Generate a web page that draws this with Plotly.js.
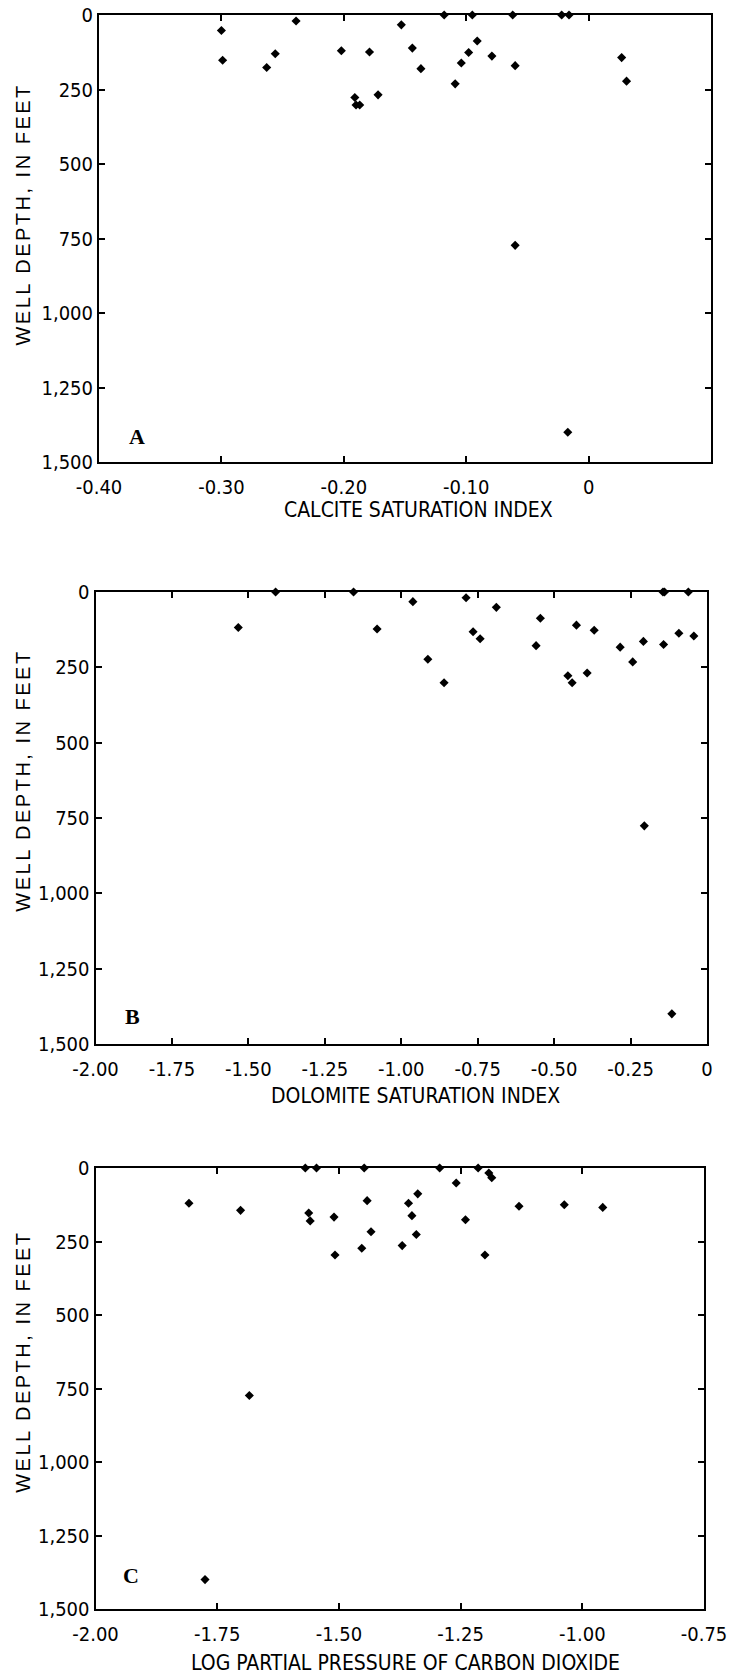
<!DOCTYPE html>
<html><head><meta charset="utf-8">
<script src="https://cdn.plot.ly/plotly-3.0.1.min.js"></script>
<style>body{margin:0;background:#fff}</style>
</head><body><div id="chart" style="width:729px;height:1679px"></div>
<script>
// Panel A: calcite saturation index vs well depth
const calciteSI = [-0.300,-0.299,-0.263,-0.256,-0.239,-0.202,-0.191,-0.190,-0.187,-0.179,-0.172,-0.153,-0.144,-0.137,-0.118,-0.109,-0.104,-0.098,-0.095,-0.091,-0.079,-0.062,-0.060,-0.022,-0.016,0.027,0.031,-0.060,-0.017];
const calciteDepth = [52,152,176,130,20,120,277,302,302,124,268,33,111,180,0,231,161,126,0,87,138,0,170,0,0,143,222,773,1400];
// Panel B: dolomite saturation index vs well depth
const dolomiteSI = [-1.533,-1.411,-1.156,-1.079,-0.962,-0.913,-0.860,-0.788,-0.765,-0.742,-0.689,-0.559,-0.545,-0.455,-0.441,-0.427,-0.392,-0.369,-0.284,-0.243,-0.208,-0.144,-0.139,-0.142,-0.092,-0.061,-0.043,-0.205,-0.115];
const dolomiteDepth = [118,0,0,123,32,223,301,19,132,155,51,178,87,278,301,110,269,127,183,232,164,0,0,174,137,0,146,776,1400];
// Panel C: log partial pressure of CO2 vs well depth
const logPCO2 = [-1.808,-1.702,-1.569,-1.546,-1.562,-1.559,-1.510,-1.508,-1.453,-1.448,-1.442,-1.434,-1.370,-1.357,-1.350,-1.341,-1.338,-1.293,-1.259,-1.240,-1.214,-1.200,-1.192,-1.186,-1.130,-1.037,-0.958,-1.684,-1.775];
const pco2Depth = [120,144,0,0,153,180,167,296,273,0,111,217,264,120,162,226,88,0,51,176,0,296,17,33,130,125,134,774,1400];

// Tick labels
const xTicksA = [-0.4,-0.3,-0.2,-0.1,0,0.1];
const xLabelsA = ["-0.40","-0.30","-0.20","-0.10","0","0.10"];
const xTicksB = [-2,-1.75,-1.5,-1.25,-1,-0.75,-0.5,-0.25,0];
const xLabelsB = ["-2.00","-1.75","-1.50","-1.25","-1.00","-0.75","-0.50","-0.25","0"];
const xTicksC = [-2,-1.75,-1.5,-1.25,-1,-0.75];
const xLabelsC = ["-2.00","-1.75","-1.50","-1.25","-1.00","-0.75"];
const yTicks = [0,250,500,750,1000,1250,1500];
const yLabels = ["0","250","500","750","1,000","1,250","1,500"];

const xTitles = ["CALCITE SATURATION INDEX","DOLOMITE SATURATION INDEX","LOG PARTIAL PRESSURE OF CARBON DIOXIDE"];
const yTitle = "WELL DEPTH, IN FEET";
const panelLetters = ["A","B","C"];

const narrow = "Liberation Sans Narrow, DejaVu Sans Condensed, Arial Narrow, sans-serif";
const W = 729, H = 1679;

function mk(x, y, xa, ya) {
  return {type:'scatter', mode:'markers', x:x, y:y, xaxis:xa, yaxis:ya,
    marker:{symbol:'diamond', size:7, color:'#000'}, cliponaxis:false, showlegend:false, hoverinfo:'x+y'};
}
const data = [
  mk(calciteSI, calciteDepth, 'x', 'y'),
  mk(dolomiteSI, dolomiteDepth, 'x2', 'y2'),
  mk(logPCO2, pco2Depth, 'x3', 'y3')
];

function xax(l, r, range, tv, tt, anchor) {
  return {domain:[l/W, r/W], range:range, anchor:anchor, tickvals:tv, ticktext:tt,
    showgrid:false, zeroline:false, showline:true, linewidth:2, linecolor:'#000', mirror:'ticks',
    ticks:'inside', ticklen:6, tickwidth:2, tickcolor:'#000', ticklabelstandoff:6,
    tickfont:{family:narrow, size:20, color:'#000'}, fixedrange:true};
}
function yax(top, bot, anchor) {
  return {domain:[1-bot/H, 1-top/H], range:[1500,0], anchor:anchor, tickvals:yTicks, ticktext:yLabels,
    showgrid:false, zeroline:false, showline:true, linewidth:2, linecolor:'#000', mirror:'ticks',
    ticks:'inside', ticklen:6, tickwidth:2, tickcolor:'#000', ticklabelstandoff:0,
    tickfont:{family:narrow, size:20, color:'#000'}, fixedrange:true};
}

const panels = [
  {xr:'x', yr:'y', xt:0.522, xty:-0.107, yty:0.553, lx:0.062, ly:0.058},
  {xr:'x2', yr:'y2', xt:0.524, xty:-0.115, yty:0.582, lx:0.061, ly:0.060},
  {xr:'x3', yr:'y3', xt:0.510, xty:-0.122, yty:0.560, lx:0.058, ly:0.077}
];

const annotations = [];
panels.forEach((p, i) => {
  annotations.push({xref:p.xr+' domain', yref:p.yr+' domain', x:p.xt, y:p.xty, text:xTitles[i],
    showarrow:false, xanchor:'center', yanchor:'middle', font:{family:narrow, size:21, color:'#000'}});
  annotations.push({xref:'paper', yref:p.yr+' domain', x:23/W, y:p.yty, text:yTitle, textangle:-90,
    showarrow:false, xanchor:'center', yanchor:'middle', font:{family:'Liberation Sans, Arial, sans-serif', size:20, color:'#000'}});
  annotations.push({xref:p.xr+' domain', yref:p.yr+' domain', x:p.lx, y:p.ly, text:'<b>'+panelLetters[i]+'</b>',
    showarrow:false, xanchor:'center', yanchor:'middle', font:{family:'Liberation Serif, Times New Roman, serif', size:22, color:'#000'}});
});

const layout = {
  width:W, height:H, margin:{l:0, r:0, t:0, b:0},
  paper_bgcolor:'#fff', plot_bgcolor:'#fff', showlegend:false,
  xaxis: xax(99, 711, [-0.4, 0.1], xTicksA, xLabelsA, 'y'),
  yaxis: yax(15, 462, 'x'),
  xaxis2: xax(95.5, 707, [-2, 0], xTicksB, xLabelsB, 'y2'),
  yaxis2: yax(592, 1044, 'x2'),
  xaxis3: xax(95.5, 704, [-2, -0.75], xTicksC, xLabelsC, 'y3'),
  yaxis3: yax(1168, 1609, 'x3'),
  annotations: annotations
};

Plotly.newPlot('chart', data, layout, {displayModeBar:false, staticPlot:true}).then(() => {
  document.querySelectorAll('text').forEach(t => {
    if (t.textContent === yTitle) t.style.letterSpacing = '2.5px';
  });
});
</script>
</body></html>
